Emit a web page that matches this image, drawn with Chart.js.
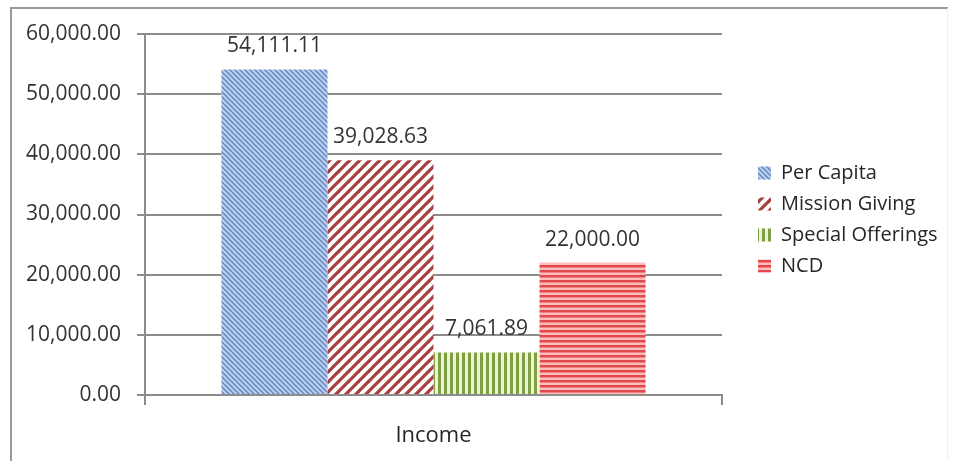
<!DOCTYPE html>
<html>
<head>
<meta charset="utf-8">
<script src="https://cdn.jsdelivr.net/npm/chart.js@4.4.0/dist/chart.umd.min.js"></script>
<style>
  html, body { margin: 0; padding: 0; background: #fff; }
  #wrap { position: relative; width: 956px; height: 461px; }
  #frame {
    position: absolute; left: 10px; top: 7px; width: 938px; height: 460px;
    border-left: 2px solid #9a9a9a; border-top: 2px solid #9a9a9a;
    border-right: 1px solid #eeeeee; box-sizing: border-box;
  }
  canvas { position: absolute; left: 0; top: 0; }
</style>
</head>
<body>
<div id="wrap">
  <div id="frame"></div>
  <canvas id="myChart" width="956" height="461"></canvas>
</div>
<script>
const categorias = ['Income'];
const series = ['Per Capita', 'Mission Giving', 'Special Offerings', 'NCD'];
const valores = [54111.11, 39028.63, 7061.89, 22000.00];
const ticksY = [0, 10000, 20000, 30000, 40000, 50000, 60000];

const fuente = '"Open Sans", "DejaVu Sans", sans-serif';

function formato(v) {
    return v.toLocaleString('en-US', { minimumFractionDigits: 2, maximumFractionDigits: 2 });
}

// patrones de relleno tipo Excel
function patron(tam, dibujar) {
    const c = document.createElement('canvas');
    c.width = tam; c.height = tam;
    const g = c.getContext('2d');
    dibujar(g, tam);
    return document.getElementById('myChart').getContext('2d').createPattern(c, 'repeat');
}

const rellenos = [
    patron(5, (g, s) => {
        g.fillStyle = '#bcd1ee'; g.fillRect(0, 0, s, s);
        g.strokeStyle = '#6388bf'; g.lineWidth = 1.5;
        for (const k of [-s, 0, s]) { g.beginPath(); g.moveTo(k - s, -s); g.lineTo(k + 2 * s, 2 * s); g.stroke(); }
    }),
    patron(10, (g, s) => {
        g.fillStyle = '#ffffff'; g.fillRect(0, 0, s, s);
        g.strokeStyle = '#a6403f'; g.lineWidth = 3.2;
        for (const k of [-s, 0, s]) { g.beginPath(); g.moveTo(k - s, 2 * s); g.lineTo(k + 2 * s, -s); g.stroke(); }
    }),
    patron(6, (g, s) => {
        g.fillStyle = '#eef3d2'; g.fillRect(0, 0, s, s);
        g.fillStyle = '#7f9f44'; g.fillRect(0, 0, 3, s);
    }),
    patron(5, (g, s) => {
        g.fillStyle = '#ffbcbc'; g.fillRect(0, 0, s, s);
        g.fillStyle = '#e04a4a'; g.fillRect(0, 0, s, 2.5);
    })
];

const etiquetas = {
    id: 'etiquetas',
    afterDatasetsDraw(chart) {
        const ctx = chart.ctx;
        ctx.save();
        ctx.font = '21px ' + fuente;
        ctx.fillStyle = '#333';
        ctx.textAlign = 'center';
        ctx.textBaseline = 'middle';
        chart.data.datasets.forEach((ds, i) => {
            chart.getDatasetMeta(i).data.forEach((bar, j) => {
                ctx.fillText(formato(ds.data[j]), bar.x, bar.y - 23);
            });
        });
        ctx.restore();
    }
};

// ancho fijo de la leyenda y separación respecto al área del gráfico
const leyendaFija = {
    id: 'leyendaFija',
    beforeLayout(chart) {
        const lg = chart.legend;
        if (lg && !lg._parcheado) {
            const fit0 = lg.fit;
            lg.fit = function () { fit0.call(this); this.width = 234; };
            lg._parcheado = true;
        }
    },
    afterLayout(chart) {
        const lg = chart.legend;
        lg.left += 25;
        lg.top -= 28;
        lg.bottom -= 28;
    }
};

const ctx = document.getElementById('myChart').getContext('2d');
const myChart = new Chart(ctx, {
    type: 'bar',
    data: {
        labels: categorias,
        datasets: series.map((nombre, i) => ({
            label: nombre,
            data: [valores[i]],
            backgroundColor: rellenos[i],
            borderWidth: 0,
            barPercentage: 1,
            categoryPercentage: 0.735
        }))
    },
    options: {
        responsive: false,
        animation: false,
        layout: { padding: { left: 10, top: 34, right: 0, bottom: 0 } },
        plugins: {
            tooltip: { enabled: false },
            legend: {
                position: 'right',
                labels: {
                    boxWidth: 13,
                    boxHeight: 13,
                    padding: 11,
                    color: '#262626',
                    font: { family: fuente, size: 20, lineHeight: 1.0 }
                }
            }
        },
        scales: {
            x: {
                grid: { display: true, drawOnChartArea: false, drawTicks: true, tickLength: 10, color: '#8c8c8c', lineWidth: 2 },
                border: { display: true, color: '#8c8c8c', width: 2 },
                ticks: { color: '#262626', padding: 18, font: { family: fuente, size: 22 } },
                afterFit: s => { s.height = 66; }
            },
            y: {
                min: 0,
                max: 60000,
                afterBuildTicks: s => { s.ticks = ticksY.map(v => ({ value: v })); },
                grid: { color: '#8c8c8c', lineWidth: 2, tickLength: 8 },
                border: { display: true, color: '#8c8c8c', width: 2 },
                ticks: { color: '#333', padding: 16, font: { family: fuente, size: 21 }, callback: v => formato(v) },
                afterFit: s => { s.width = 135; }
            }
        }
    },
    plugins: [etiquetas, leyendaFija]
});
</script>
</body>
</html>
